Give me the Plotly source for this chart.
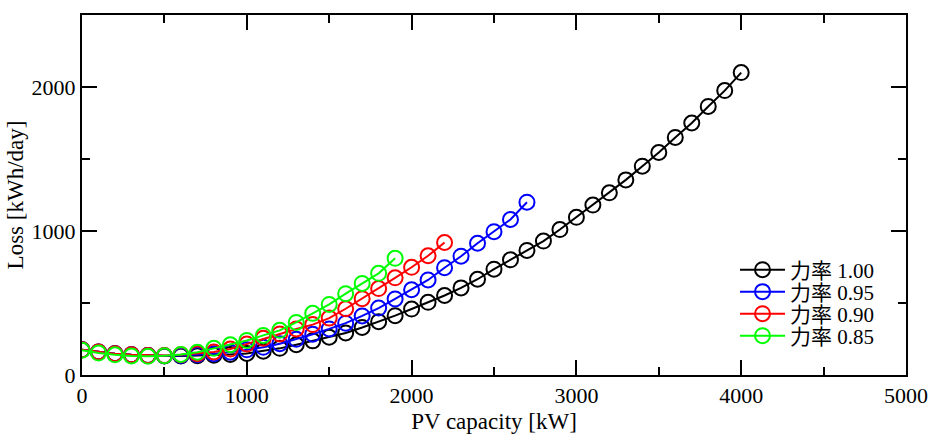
import plotly.graph_objects as go

x_all = list(range(0, 4100, 100))

loss_100 = [175, 160, 148, 140, 135, 132, 132, 134, 138, 143, 150, 165, 185, 210, 237, 262, 292, 330, 370, 412,
            458, 505, 552, 605, 665, 735, 800, 865, 930, 1010, 1095, 1180, 1265, 1355, 1450, 1545, 1650, 1750,
            1865, 1975, 2100]
loss_095 = [175, 160, 148, 140, 135, 133, 135, 140, 147, 158, 175, 192, 217, 248, 283, 320, 360, 410, 465, 528,
            592, 660, 745, 825, 915, 995, 1080, 1200]
loss_090 = [175, 160, 148, 140, 135, 135, 140, 148, 160, 180, 215, 255, 285, 320, 350, 395, 460, 530, 600, 675,
            748, 828, 920]
loss_085 = [172, 152, 140, 132, 130, 133, 143, 158, 185, 210, 240, 275, 310, 365, 428, 490, 565, 636, 706, 810]

names = ["力率 1.00", "力率 0.95", "力率 0.90", "力率 0.85"]
colors = ["#000000", "#0000ff", "#ff0000", "#00ff00"]
series = [loss_100, loss_095, loss_090, loss_085]

FONT = "Liberation Serif, Times New Roman, Noto Sans CJK JP, serif"
FS = 23
TFS = 22

fig = go.Figure()
legend_ids = ["legend", "legend2", "legend3", "legend4"]
for name, col, ys, lg in zip(names, colors, series, legend_ids):
    fig.add_trace(go.Scatter(
        x=x_all[:len(ys)], y=ys, name=name, mode="lines+markers",
        line=dict(color=col, width=2),
        marker=dict(symbol="circle-open", size=15, color=col, line=dict(color=col, width=2)),
        legend=lg,
    ))

axis_common = dict(
    showline=True, linecolor="black", linewidth=2, mirror="ticks",
    ticks="inside", ticklen=15, tickwidth=2, tickcolor="black",
    showgrid=False, zeroline=False, automargin=False,
    tickfont=dict(family=FONT, size=TFS, color="black"),
)

fig.update_xaxes(range=[0, 5000], tickvals=[0, 1000, 2000, 3000, 4000, 5000],
                 minor=dict(ticks="inside", ticklen=8, tickwidth=2, tickcolor="black", dtick=500, tick0=0),
                 title=dict(text="PV capacity [kW]", font=dict(family=FONT, size=FS, color="black"), standoff=6),
                 **axis_common)
fig.update_yaxes(range=[0, 2500], tickvals=[0, 1000, 2000],
                 minor=dict(ticks="inside", ticklen=8, tickwidth=2, tickcolor="black", dtick=500, tick0=0),
                 title=dict(text="Loss [kWh/day]", font=dict(family=FONT, size=FS, color="black"), standoff=2),
                 **axis_common)

legend_y = [0.2917, 0.2306, 0.1694, 0.1083]
leg_layout = {}
for lg, yy in zip(legend_ids, legend_y):
    leg_layout[lg] = dict(x=0.7925, xanchor="left", y=yy, yanchor="middle",
                          bgcolor="rgba(0,0,0,0)", borderwidth=0,
                          font=dict(family=FONT, size=21, color="black"),
                          itemwidth=45)

fig.update_layout(
    width=930, height=434,
    margin=dict(l=82, r=24, t=15, b=59),
    plot_bgcolor="white", paper_bgcolor="white",
    font=dict(family=FONT, size=FS, color="black"),
    showlegend=True,
    **leg_layout,
)

fig.write_html("out.html",
               config={"displayModeBar": False},
               post_script="document.body.style.margin='0';document.body.style.overflow='hidden';")
